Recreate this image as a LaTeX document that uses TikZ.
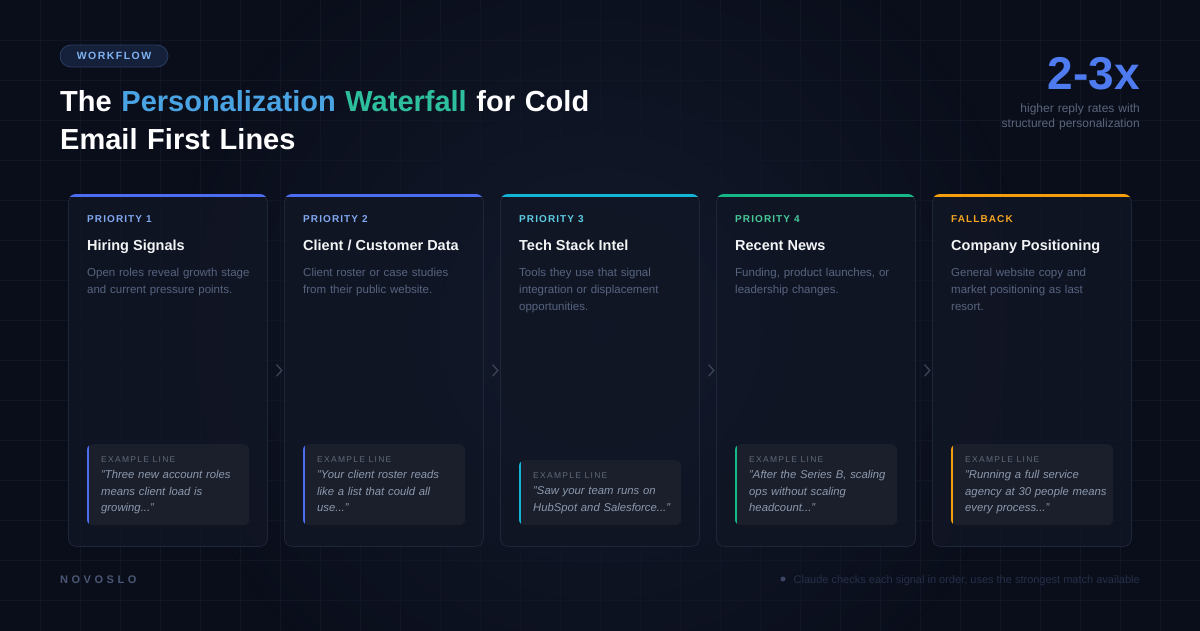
\documentclass[tikz,border=0pt]{standalone}
\usepackage{fontspec}
\setmainfont{Liberation Sans}
\newfontfamily\lsa[LetterSpace=11]{Liberation Sans}
\newfontfamily\lsw[LetterSpace=14]{Liberation Sans}
\newfontfamily\lsb[LetterSpace=15]{Liberation Sans}
\newfontfamily\lsc[LetterSpace=32]{Liberation Sans}
\usetikzlibrary{calc}
\definecolor{bg}{HTML}{0A0E1B}
\definecolor{glow}{HTML}{131A2C}
\definecolor{gridc}{HTML}{101625}
\definecolor{cardfill}{HTML}{111625}
\definecolor{cardline}{HTML}{1F2637}
\definecolor{exfill}{HTML}{1A1F2B}
\definecolor{cblue}{HTML}{4C6CF2}
\definecolor{ccyan}{HTML}{14B4D6}
\definecolor{cgreen}{HTML}{17B887}
\definecolor{corange}{HTML}{F59E0B}
\definecolor{lblue}{HTML}{7FA8F0}
\definecolor{lcyan}{HTML}{5CCDE3}
\definecolor{lgreen}{HTML}{48C99A}
\definecolor{lorange}{HTML}{F5A524}
\definecolor{titlec}{HTML}{F3F4F6}
\definecolor{descc}{HTML}{56647F}
\definecolor{exlab}{HTML}{5F6878}
\definecolor{extext}{HTML}{8D99AE}
\definecolor{pillfill}{HTML}{15203A}
\definecolor{pillline}{HTML}{2B3D63}
\definecolor{pilltext}{HTML}{7FB2F2}
\definecolor{bigc}{HTML}{4E7CF0}
\definecolor{subc}{HTML}{5B667C}
\definecolor{brandc}{HTML}{4A5875}
\definecolor{footc}{HTML}{263049}
\definecolor{dotc}{HTML}{3A4560}
\definecolor{chevc}{HTML}{3B4558}
\definecolor{tblue}{HTML}{4AA3E3}
\definecolor{tteal}{HTML}{2EBF9E}

\tikzset{
  cardbox/.style={draw=cardline, line width=0.8pt, fill=cardfill, fill opacity=0.85, rounded corners=8pt, minimum width=199pt, minimum height=352pt, inner sep=0pt, anchor=north west},
  exbox/.style={fill=exfill, rounded corners=6pt, minimum width=162pt, inner sep=0pt, anchor=north west},
  plabel/.style={anchor=base west, inner sep=0pt, font=\lsa\bfseries\fontsize{10}{12}\selectfont},
  ctitle/.style={anchor=base west, inner sep=0pt, text=titlec, font=\bfseries\fontsize{14.5}{17}\selectfont},
  cdesc/.style={anchor=base west, inner sep=0pt, text=descc, align=left, text width=190pt, font=\fontsize{11.5}{17}\selectfont},
  exlabel/.style={anchor=base west, inner sep=0pt, text=exlab, font=\lsb\fontsize{8.5}{10}\selectfont},
  extxt/.style={anchor=base west, inner sep=0pt, text=extext, align=left, text width=160pt, font=\itshape\fontsize{11.3}{16.5}\selectfont},
  chev/.style={draw=chevc, line width=1.3pt, line cap=round, line join=round},
  gridline/.style={draw=gridc, line width=0.8pt}
}

\newcommand\wfcard[9]{%
  \node[cardbox] (#1) at (#2,194) {};
  \begin{scope}
    \clip[rounded corners=8pt] (#1.north west) rectangle (#1.south east);
    \fill[#3] (#1.north west) rectangle ($(#1.north east)+(0,3)$);
  \end{scope}
  \node[plabel, text=#4] (#1-lab) at (#2+19,222) {#5};
  \node[ctitle] (#1-title) at (#2+19,250) {#6};
  \node[cdesc] (#1-desc) at (#2+19,276) {#7};
  \pgfmathsetmacro\wfbh{525-#8}
  \node[exbox, minimum height=\wfbh pt] (#1-ex) at (#2+19,#8) {};
  \begin{scope}
    \clip[rounded corners=6pt] (#1-ex.north west) rectangle (#1-ex.south east);
    \fill[#3] (#1-ex.north west) rectangle ($(#1-ex.south west)+(2,0)$);
  \end{scope}
  \node[exlabel] (#1-exlab) at (#2+33,#8+18) {EXAMPLE LINE};
  \node[extxt] (#1-extxt) at (#2+33,#8+34.5) {#9};
}

\begin{document}
\begin{tikzpicture}[x=1pt,y=-1pt]
\useasboundingbox (0,0) rectangle (1200,630);
\clip (0,0) rectangle (1200,630);
\fill[bg] (-10,-10) rectangle (1210,640);
\fill[inner color=glow, outer color=bg] (600,330) circle (430);
\foreach \gx in {40,80,...,1160} \draw[gridline] (\gx,-5) -- (\gx,635);
\foreach \gy in {40,80,...,600} \draw[gridline] (-5,\gy) -- (1205,\gy);

% header
\node[fill=pillfill, draw=pillline, line width=0.8pt, rounded corners=11pt, minimum width=108pt, minimum height=22pt, inner sep=0pt, text=pilltext, font=\lsw\bfseries\fontsize{10.5}{12}\selectfont] (tag) at (114,56) {WORKFLOW};
\node[anchor=base west, inner sep=0pt, text=white, align=left, text width=700pt, font=\bfseries\fontsize{29}{38}\selectfont] (title) at (60,111)
  {The \textcolor{tblue}{Personalization} \textcolor{tteal}{Waterfall} for Cold\\Email First Lines};
\node[anchor=base east, inner sep=0pt, text=bigc, font=\bfseries\fontsize{46}{50}\selectfont] (big) at (1140,89) {2-3x};
\node[anchor=base east, inner sep=0pt, text=subc, align=right, text width=250pt, font=\fontsize{12}{15}\selectfont] (sub) at (1140,112) {higher reply rates with\\structured personalization};

% cards
\wfcard{c1}{68}{cblue}{lblue}{PRIORITY 1}{Hiring Signals}{Open roles reveal growth stage\\and current pressure points.}{444}{"Three new account roles\\means client load is\\growing..."}
\wfcard{c2}{284}{cblue}{lblue}{PRIORITY 2}{Client / Customer Data}{Client roster or case studies\\from their public website.}{444}{"Your client roster reads\\like a list that could all\\use..."}
\wfcard{c3}{500}{ccyan}{lcyan}{PRIORITY 3}{Tech Stack Intel}{Tools they use that signal\\integration or displacement\\opportunities.}{460}{"Saw your team runs on\\HubSpot and Salesforce..."}
\wfcard{c4}{716}{cgreen}{lgreen}{PRIORITY 4}{Recent News}{Funding, product launches, or\\leadership changes.}{444}{"After the Series B, scaling\\ops without scaling\\headcount..."}
\wfcard{c5}{932}{corange}{lorange}{FALLBACK}{Company Positioning}{General website copy and\\market positioning as last\\resort.}{444}{"Running a full service\\agency at 30 people means\\every process..."}

% chevrons between cards
\foreach \ca in {c1,c2,c3,c4}
  \draw[chev] ($(\ca.east)+(9,-5.5)$) -- ++(5,5.5) -- ++(-5,5.5);

% footer
\node[anchor=base west, inner sep=0pt, text=brandc, font=\lsc\bfseries\fontsize{11}{12}\selectfont] (brand) at (60,583) {NOVOSLO};
\node[anchor=base east, inner sep=0pt, text=footc, font=\fontsize{11}{12}\selectfont] (foot) at (1140,583) {Claude checks each signal in order, uses the strongest match available};
\node[circle, fill=dotc, minimum size=5pt, inner sep=0pt] (dot) at (783,579) {};
\end{tikzpicture}
\end{document}
